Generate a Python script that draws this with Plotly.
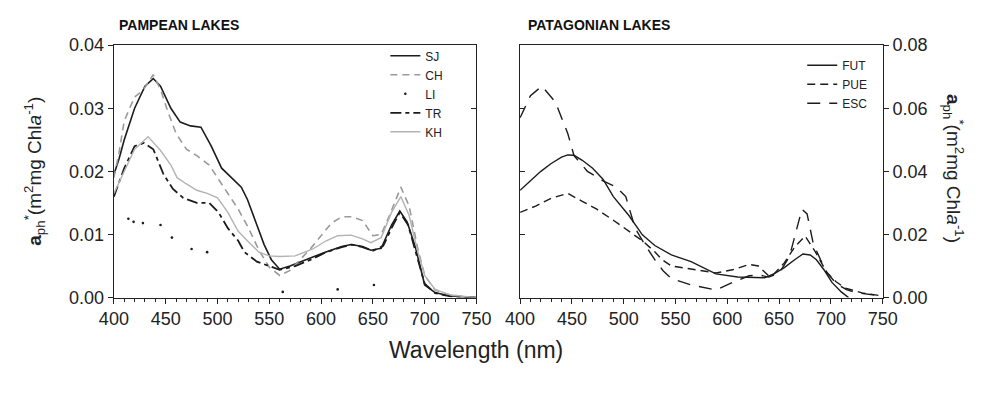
import plotly.graph_objects as go

# ---------------- data: Pampean lakes ----------------
sj_wl = [400, 405, 410, 420, 430, 438, 445, 455, 464, 474, 484, 494, 504, 514, 523, 529, 537, 545, 552, 560,
         570, 585, 604, 620, 629, 640, 648, 658, 668, 676, 683, 691, 700, 710, 720, 735, 750]
sj_val = [0.0195, 0.022, 0.025, 0.030, 0.0335, 0.0347, 0.0335, 0.030, 0.0278, 0.0272, 0.027, 0.024, 0.0205,
          0.019, 0.0175, 0.0155, 0.012, 0.0084, 0.006, 0.0045, 0.005, 0.006, 0.0072, 0.0081, 0.0084, 0.0081,
          0.0075, 0.0078, 0.0115, 0.0137, 0.012, 0.008, 0.002, 0.0008, 0.0004, 0.0001, 0.0]

ch_wl = [400, 405, 410, 420, 428, 438, 445, 452, 460, 470, 480, 492, 500, 510, 520, 530, 540, 550, 560, 570,
         580, 590, 600, 610, 620, 630, 640, 650, 658, 666, 677, 685, 693, 700, 710, 725, 750]
ch_val = [0.019, 0.023, 0.028, 0.0318, 0.0328, 0.0353, 0.033, 0.0295, 0.026, 0.0235, 0.0225, 0.021, 0.019,
          0.0165, 0.014, 0.011, 0.0075, 0.0048, 0.0035, 0.0043, 0.006, 0.0078, 0.0098, 0.0118, 0.0128,
          0.0128, 0.0122, 0.0098, 0.010, 0.013, 0.0175, 0.0145, 0.008, 0.0035, 0.0012, 0.0004, 0.0]

li_wl = [414, 419, 428, 445, 456, 475, 490, 563, 616, 651]
li_val = [0.0125, 0.012, 0.0118, 0.0115, 0.0095, 0.0077, 0.0072, 0.0009, 0.0013, 0.002]

tr_wl = [400, 410, 420, 429, 438, 448, 457, 467, 480, 492, 501, 510, 520, 526, 538, 551, 560, 575, 590, 605,
         620, 630, 640, 650, 660, 668, 676, 684, 692, 700, 710, 725, 750]
tr_val = [0.016, 0.0205, 0.024, 0.0245, 0.0235, 0.0195, 0.0172, 0.0158, 0.015, 0.015, 0.0135, 0.011, 0.009,
          0.0072, 0.0057, 0.005, 0.0044, 0.005, 0.006, 0.0072, 0.008, 0.0084, 0.008, 0.0074, 0.0082, 0.011,
          0.0135, 0.0115, 0.007, 0.0022, 0.0007, 0.0002, 0.0]

kh_wl = [400, 410, 420, 433, 445, 455, 461, 470, 480, 490, 500, 510, 520, 530, 540, 550, 560, 575, 592, 605,
         616, 629, 640, 648, 658, 668, 677, 685, 693, 700, 710, 725, 750]
kh_val = [0.0165, 0.020, 0.0235, 0.0255, 0.0233, 0.021, 0.019, 0.018, 0.017, 0.0165, 0.0158, 0.0135, 0.0105,
          0.0088, 0.0072, 0.0066, 0.0065, 0.0066, 0.0077, 0.009, 0.0098, 0.0099, 0.0093, 0.0087, 0.0095,
          0.0135, 0.016, 0.013, 0.0075, 0.0035, 0.0013, 0.0004, 0.0]

# ---------------- data: Patagonian lakes ----------------
fut_wl = [400, 410, 420, 430, 440, 446, 452, 460, 470, 480, 490, 505, 518, 530, 546, 565, 589, 610, 625, 636,
          645, 655, 665, 673, 680, 686, 694, 701, 710, 717]
fut_val = [0.034, 0.037, 0.040, 0.0425, 0.0445, 0.0452, 0.0451, 0.0435, 0.041, 0.0375, 0.032, 0.026, 0.0199,
           0.0165, 0.0135, 0.0114, 0.0075, 0.0065, 0.0063, 0.0063, 0.0075, 0.0095, 0.012, 0.0138, 0.0135,
           0.012, 0.0085, 0.0048, 0.0018, 0.0]

pue_wl = [400, 415, 430, 446, 460, 474, 490, 505, 518, 530, 537, 546, 565, 589, 605, 621, 630, 640, 645, 655,
          665, 675, 685, 696, 705, 714, 730, 750]
pue_val = [0.027, 0.029, 0.0315, 0.033, 0.0305, 0.028, 0.0245, 0.021, 0.018, 0.0145, 0.012, 0.010, 0.009,
           0.0078, 0.0088, 0.0105, 0.010, 0.0069, 0.0075, 0.011, 0.016, 0.0195, 0.0145, 0.008, 0.005, 0.003,
           0.0015, 0.0005]

esc_wl = [400, 410, 421, 434, 446, 452, 465, 480, 493, 502, 511, 520, 530, 538, 546, 565, 589, 605, 621, 630,
          640, 650, 660, 667, 672, 677, 683, 690, 696, 705, 715, 725, 739, 750]
esc_val = [0.057, 0.064, 0.067, 0.062, 0.052, 0.045, 0.040, 0.037, 0.035, 0.032, 0.022, 0.017, 0.012, 0.0085,
           0.006, 0.004, 0.0024, 0.0048, 0.0069, 0.0072, 0.0065, 0.0078, 0.013, 0.022, 0.028, 0.0265, 0.017,
           0.012, 0.008, 0.0045, 0.0025, 0.0015, 0.001, 0.0005]

left_ticks = [0.00, 0.01, 0.02, 0.03, 0.04]
right_ticks = [0.00, 0.02, 0.04, 0.06, 0.08]
wl_ticks = [400, 450, 500, 550, 600, 650, 700, 750]

FONT = "Liberation Sans, Arial, sans-serif"
BLACK = "#1c1c1c"

fig = go.Figure()

def line(x, y, name, color, dash, width, xa, ya, leg):
    fig.add_trace(go.Scatter(x=x, y=y, name=name, mode="lines",
                             line=dict(color=color, dash=dash, width=width),
                             xaxis=xa, yaxis=ya, legend=leg))

line(sj_wl, sj_val, "SJ", BLACK, "solid", 1.6, "x", "y", "legend")
line(ch_wl, ch_val, "CH", "#9a9a9a", "7px,5px", 1.6, "x", "y", "legend")
fig.add_trace(go.Scatter(x=li_wl, y=li_val, name="LI", mode="markers",
                         marker=dict(color=BLACK, size=2.6), xaxis="x", yaxis="y", legend="legend"))
line(tr_wl, tr_val, "TR", BLACK, "11px,4px,4px,4px", 1.8, "x", "y", "legend")
line(kh_wl, kh_val, "KH", "#b3b3b3", "solid", 1.4, "x", "y", "legend")

line(fut_wl, fut_val, "FUT", BLACK, "solid", 1.4, "x2", "y2", "legend2")
line(pue_wl, pue_val, "PUE", BLACK, "8px,5px", 1.4, "x2", "y2", "legend2")
line(esc_wl, esc_val, "ESC", BLACK, "13px,9px", 1.4, "x2", "y2", "legend2")

# invisible helpers so the inner-tick axes exist
fig.add_trace(go.Scatter(x=[], y=[], xaxis="x", yaxis="y3", showlegend=False, hoverinfo="skip"))
fig.add_trace(go.Scatter(x=[], y=[], xaxis="x2", yaxis="y4", showlegend=False, hoverinfo="skip"))

W, H = 984, 393
xl0, xl1 = 102 / W, 476 / W
xr0, xr1 = 521 / W, 895 / W
yb, yt = 1 - 303 / H, 1 - 37 / H

tickfont = dict(family=FONT, size=18, color="#222")
xcommon = dict(range=[400, 750], tickvals=wl_ticks, ticks="outside", ticklen=5, tickwidth=1.2,
               tickcolor="#222", showline=True, linecolor="#222", linewidth=1.4, mirror=True,
               showgrid=False, zeroline=False, tickfont=tickfont,
               minor=dict(dtick=10, tick0=400, ticks="outside", ticklen=3, tickcolor="#222", showgrid=False))

fig.update_layout(
    width=W, height=H, margin=dict(l=0, r=0, t=0, b=0),
    paper_bgcolor="white", plot_bgcolor="white",
    font=dict(family=FONT, color="#222"),
    showlegend=True,
    xaxis=dict(domain=[xl0, xl1], anchor="y", **xcommon),
    xaxis2=dict(domain=[xr0, xr1], anchor="y2", **xcommon),
    yaxis=dict(domain=[yb, yt], anchor="x", range=[0, 0.04], tickvals=left_ticks, tickformat=".2f",
               ticks="outside", ticklen=5, tickwidth=1.2, tickcolor="#222", showline=True,
               linecolor="#222", linewidth=1.4, mirror=True, showgrid=False, zeroline=False,
               tickfont=tickfont),
    yaxis3=dict(overlaying="y", anchor="x", side="right", range=[0, 0.04], tickvals=left_ticks,
                ticks="inside", ticklen=5, tickcolor="#222", showticklabels=False, showline=False,
                showgrid=False, zeroline=False),
    yaxis2=dict(domain=[yb, yt], anchor="x2", side="right", range=[0, 0.08], tickvals=right_ticks,
                tickformat=".2f", ticks="outside", ticklen=5, tickwidth=1.2, tickcolor="#222",
                showline=True, linecolor="#222", linewidth=1.4, mirror=True, showgrid=False,
                zeroline=False, tickfont=tickfont),
    yaxis4=dict(overlaying="y2", anchor="x2", side="left", range=[0, 0.08], tickvals=right_ticks,
                ticks="inside", ticklen=5, tickcolor="#222", showticklabels=False, showline=False,
                showgrid=False, zeroline=False),
    legend=dict(x=382 / W, y=1 - 33 / H, xanchor="left", yanchor="top", bgcolor="rgba(0,0,0,0)",
                font=dict(family=FONT, size=12, color="#222"), itemwidth=30, tracegroupgap=0),
    legend2=dict(x=812 / W, y=1 - 43 / H, xanchor="left", yanchor="top", bgcolor="rgba(0,0,0,0)",
                 font=dict(family=FONT, size=12, color="#222"), itemwidth=30, tracegroupgap=0),
)

ytitle = "<b>a</b><sub>ph</sub><sup>*</sup>(m<sup>2</sup>mg Chl<i>a</i><sup>-1</sup>)"
annots = [
    dict(text="<b>PAMPEAN LAKES</b>", x=105 / W, y=1 - 16 / H, xanchor="left", yanchor="middle",
         font=dict(family=FONT, size=14, color="#111")),
    dict(text="<b>PATAGONIAN LAKES</b>", x=527 / W, y=1 - 16 / H, xanchor="left", yanchor="middle",
         font=dict(family=FONT, size=14, color="#111")),
    dict(text=ytitle, x=20 / W, y=1 - 170 / H, textangle=-90, xanchor="center", yanchor="middle",
         font=dict(family=FONT, size=19, color="#222")),
    dict(text=ytitle, x=968 / W, y=1 - 167 / H, textangle=90, xanchor="center", yanchor="middle",
         font=dict(family=FONT, size=19, color="#222")),
    dict(text="Wavelength (nm)", x=475 / W, y=1 - 358 / H, xanchor="center", yanchor="middle",
         font=dict(family=FONT, size=23, color="#222")),
]
for a in annots:
    fig.add_annotation(xref="paper", yref="paper", showarrow=False, **a)

fig.write_html("out.html")
